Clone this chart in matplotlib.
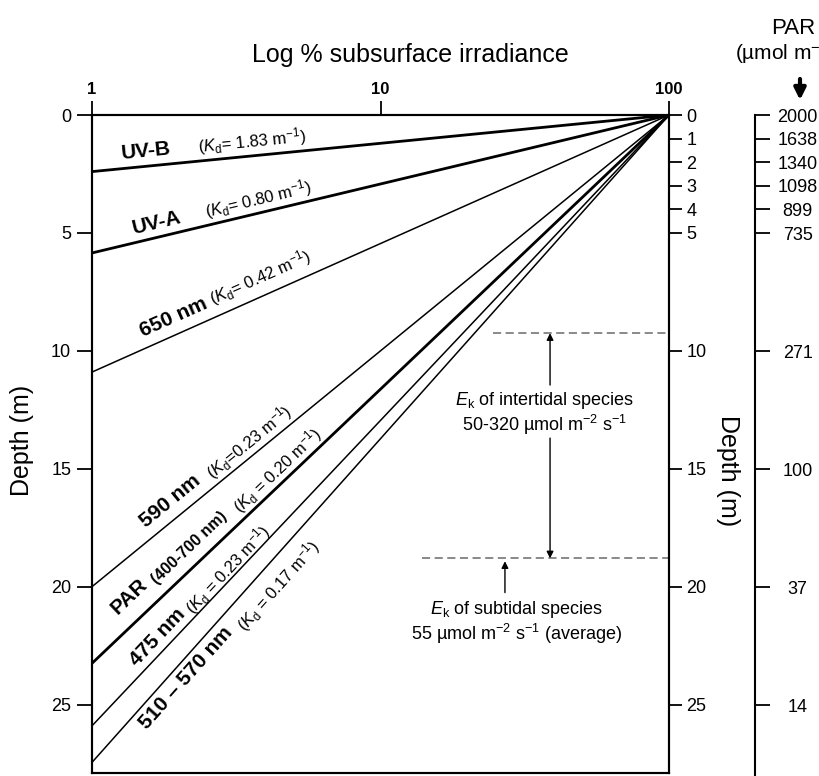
import numpy as np
import matplotlib
matplotlib.use('Agg')
import matplotlib.pyplot as plt

plt.rcParams['font.family'] = ['Liberation Sans', 'DejaVu Sans']
plt.rcParams['mathtext.fontset'] = 'custom'
plt.rcParams['mathtext.rm'] = 'Liberation Sans'
plt.rcParams['mathtext.it'] = 'Liberation Sans:italic'
plt.rcParams['mathtext.bf'] = 'Liberation Sans:bold'

# --- data ---
# depth (m) at which each band drops to 1 % of subsurface irradiance
bands = ['UV-B', 'UV-A', '650 nm', '590 nm', 'PAR', '475 nm', '510 – 570 nm']
depth_1pct = [2.4, 5.85, 10.9, 20.0, 23.25, 25.9, 27.45]
thick = [True, True, False, False, True, False, False]
kd_labels = [r'($K_{\mathrm{d}}$= 1.83 m$^{-1}$)',
             r'($K_{\mathrm{d}}$= 0.80 m$^{-1}$)',
             r'($K_{\mathrm{d}}$= 0.42 m$^{-1}$)',
             r'($K_{\mathrm{d}}$=0.23 m$^{-1}$)',
             r'($K_{\mathrm{d}}$ = 0.20 m$^{-1}$)',
             r'($K_{\mathrm{d}}$ = 0.23 m$^{-1}$)',
             r'($K_{\mathrm{d}}$ = 0.17 m$^{-1}$)']
# label anchors (x in % irradiance, depth in m)
name_x = [1.27, 1.39, 1.50, 1.54, 1.23, 1.43, 1.55]
name_d = [1.86, 5.04, 9.41, 17.5, 21.19, 23.39, 26.06]
kd_x = [2.33, 2.50, 2.63, 2.61, 3.25, 2.24, 3.39]
kd_d = [1.57, 4.36, 8.05, 15.47, 16.93, 21.2, 21.95]

depth_ticks = [0, 1, 2, 3, 4, 5, 10, 15, 20, 25]
par_values = ['2000', '1638', '1340', '1098', '899', '735', '271', '100', '37', '14']

ek_depth = [9.25, 18.8]        # dashed lines (intertidal upper, subtidal)
ek_xstart = [24.5, 13.9]

# --- figure ---
fig = plt.figure(figsize=(8.19, 7.76), dpi=100)
ax = fig.add_axes([92 / 819, 3 / 776, 577 / 819, 658 / 776])
ax.set_xscale('log')
ax.set_xlim(1, 100)
ax.set_ylim(27.9, 0)

for s in ax.spines.values():
    s.set_linewidth(1.5)

ax.xaxis.tick_top()
ax.set_xticks([1, 10, 100])
ax.set_xticklabels(['1', '10', '100'], fontweight='bold', fontsize=12)
ax.minorticks_off()
ax.tick_params(axis='x', direction='out', length=10, width=1.3, pad=3)
ax.set_yticks([0, 5, 10, 15, 20, 25])
ax.tick_params(axis='y', direction='out', length=11, width=1.3, pad=4, labelsize=13)
ax.set_ylabel('Depth (m)', fontsize=18)
ax.yaxis.set_label_coords(-0.121, 0.506)
ax.yaxis.label.set_verticalalignment('center')

ax2 = ax.twinx()
ax2.set_ylim(27.9, 0)
ax2.set_yticks(depth_ticks)
ax2.tick_params(axis='y', direction='out', length=9.5, width=1.3, pad=3, labelsize=13)
ax2.set_ylabel('Depth (m)', fontsize=18, rotation=270)
ax2.yaxis.set_label_coords(1.102, 0.459)
ax2.yaxis.label.set_verticalalignment('center')
ax2.yaxis.label.set_horizontalalignment('center')
for s in ax2.spines.values():
    s.set_linewidth(1.5)

# attenuation lines from 100 % at surface to 1 % at depth
for i, name in enumerate(bands):
    ax.plot([100, 1], [0, depth_1pct[i]], color='black',
            lw=2.0 if thick[i] else 1.1, solid_capstyle='butt')

# labels rotated to follow each line
for i, name in enumerate(bands):
    p0 = ax.transData.transform((1, depth_1pct[i]))
    p1 = ax.transData.transform((100, 0))
    ang = np.degrees(np.arctan2(p1[1] - p0[1], p1[0] - p0[0]))
    ax.text(name_x[i], name_d[i], name, fontsize=15, fontweight='bold',
            rotation=ang, rotation_mode='anchor', ha='left', va='baseline')
    ax.text(kd_x[i], kd_d[i], kd_labels[i], fontsize=12,
            rotation=ang, rotation_mode='anchor', ha='left', va='baseline')
    if name == 'PAR':
        ax.text(1.68, 19.92, '(400-700 nm)', fontsize=11.5, fontweight='bold',
                rotation=ang, rotation_mode='anchor', ha='left', va='baseline')

# Ek dashed lines
for d, x0 in zip(ek_depth, ek_xstart):
    ax.plot([x0, 100], [d, d], color='#808080', lw=1.3, ls=(0, (4.5, 2.5)))

arr = dict(arrowstyle='-|>', color='black', lw=1.0, mutation_scale=10,
           shrinkA=0, shrinkB=0)
ax.annotate('', xy=(38.7, ek_depth[0]), xytext=(38.7, 11.45), arrowprops=arr)
ax.annotate('', xy=(38.7, ek_depth[1]), xytext=(38.7, 13.7), arrowprops=arr)
ax.text(37.2, 12.67, '$E_{\\mathrm{k}}$ of intertidal species\n50-320 µmol m$^{-2}$ s$^{-1}$',
        fontsize=13, ha='center', va='center', linespacing=1.1)
ax.annotate('', xy=(27.0, ek_depth[1] + 0.12), xytext=(27.0, 20.25), arrowprops=arr)
ax.text(29.7, 21.5, '$E_{\\mathrm{k}}$ of subtidal species\n55 µmol m$^{-2}$ s$^{-1}$ (average)',
        fontsize=13, ha='center', va='center', linespacing=1.1)

# PAR scale on the far right
ax3 = fig.add_axes([700 / 819, 0, 55 / 819, 661 / 776])
ax3.patch.set_visible(False)
ax3.set_ylim(28.0, 0)
for side in ['left', 'top', 'bottom']:
    ax3.spines[side].set_visible(False)
ax3.spines['right'].set_linewidth(1.5)
ax3.set_xticks([])
ax3.yaxis.tick_right()
ax3.set_yticks(depth_ticks)
ax3.set_yticklabels(par_values)
ax3.tick_params(axis='y', direction='out', length=10.8, width=1.3, pad=20, labelsize=13)
for lab in ax3.get_yticklabels():
    lab.set_horizontalalignment('center')

fig.text(410 / 819, 1 - 55 / 776, 'Log % subsurface irradiance', ha='center', va='center', fontsize=18)
fig.text(771 / 819, 1 - 29 / 776, 'PAR', ha='left', va='center', fontsize=16)
fig.text(735 / 819, 1 - 53 / 776, '(µmol m$^{-2}$ s$^{-1}$)', ha='left', va='center', fontsize=15)
ax.annotate('', xy=(800 / 819, 1 - 100 / 776), xytext=(800 / 819, 1 - 79 / 776),
            xycoords='figure fraction', textcoords='figure fraction',
            arrowprops=dict(arrowstyle='-|>', color='black', lw=3, mutation_scale=17,
                            shrinkA=0, shrinkB=0))

fig.savefig('out.png', dpi=100)
